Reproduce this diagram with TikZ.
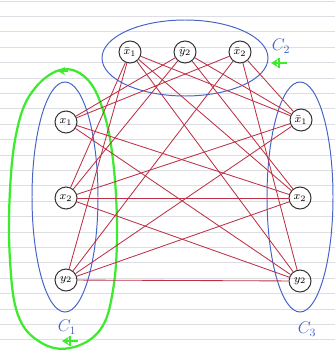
\documentclass[tikz,border=0pt]{standalone}
\usepackage{xcolor}
\usepackage{tikz}
\usetikzlibrary{arrows.meta}
\pgfdeclarelayer{bg}
\pgfsetlayers{bg,main}
\definecolor{ruledgray}{HTML}{DCDEE4}
\definecolor{edgered}{HTML}{BE3046}
\definecolor{groupblue}{HTML}{4664C8}
\definecolor{markgreen}{HTML}{3DEB2D}
\definecolor{vertexstroke}{HTML}{303030}

\begin{document}
\begin{tikzpicture}[
  x=0.025cm,
  y=-0.025cm,
  ruled/.style={
    draw=ruledgray,
    line width=0.7pt
  },
  edge/.style={
    draw=edgered,
    line width=0.6pt
  },
  vertex/.style={
    circle,
    draw=vertexstroke,
    line width=0.7pt,
    minimum size=0.55cm,
    inner sep=0pt,
    font=\footnotesize
  },
  group/.style={
    draw=groupblue,
    line width=0.7pt
  },
  clauselabel/.style={
    text=groupblue,
    font=\large
  },
  greenline/.style={
    draw=markgreen,
    line width=1.6pt
  }
]

\path[use as bounding box] (0,0) rectangle (335,354);

% Clause C2 (top)
\node[vertex] (t1) at (130,52) {$\bar{x}_1$};
\node[vertex] (t2) at (185,52) {$\bar{y}_2$};
\node[vertex] (t3) at (240,52) {$\bar{x}_2$};

% Clause C1 (left)
\node[vertex] (l1) at (66,122) {$x_1$};
\node[vertex] (l2) at (66,198) {$x_2$};
\node[vertex] (l3) at (66,280) {$y_2$};

% Clause C3 (right)
\node[vertex] (r1) at (301,120) {$\bar{x}_1$};
\node[vertex] (r2) at (300,198) {$x_2$};
\node[vertex] (r3) at (300,281) {$y_2$};

% Clause labels
\node[clauselabel] (c1lab) at (67,327) {$C_1$};
\node[clauselabel] (c2lab) at (281,46) {$C_2$};
\node[clauselabel] (c3lab) at (307,329) {$C_3$};

\begin{pgfonlayer}{bg}

% Ruled paper
\foreach \k in {0,...,22}
  \draw[ruled] (0,{1+15.4*\k}) -- (335,{1+15.4*\k});

% Clause groups
\draw[group] (65,197) ellipse [x radius=33, y radius=115];
\draw[group] (185,58) ellipse [x radius=83, y radius=38];
\draw[group] (300,197) ellipse [x radius=33, y radius=115];

% Green selection
\draw[greenline] plot[smooth cycle, tension=0.65] coordinates {
  (60,70) (86,78) (103,110) (113,160) (117,230) (113,290)
  (100,330) (70,348) (40,342) (18,315) (10,260) (10,190)
  (17,130) (32,92)};
\draw[greenline,-{Stealth[length=5pt,width=6pt]}] (68,71) -- (58,71);
\draw[greenline,-{Stealth[length=5pt,width=6pt]}] (78,341) -- (62,341);
\draw[greenline] (70,336) -- (70,346);
\draw[greenline,-{Stealth[length=5pt,width=6pt]}] (287,63) -- (271,63);
\draw[greenline] (279,58) -- (279,68);

\end{pgfonlayer}

% C1 -- C2
\draw[edge] (l2) -- (t1);
\draw[edge] (l3) -- (t1);
\draw[edge] (l1) -- (t2);
\draw[edge] (l2) -- (t2);
\draw[edge] (l1) -- (t3);
\draw[edge] (l3) -- (t3);

% C1 -- C3
\draw[edge] (l1) -- (r2);
\draw[edge] (l1) -- (r3);
\draw[edge] (l2) -- (r1);
\draw[edge] (l2) -- (r2);
\draw[edge] (l2) -- (r3);
\draw[edge] (l3) -- (r1);
\draw[edge] (l3) -- (r2);
\draw[edge] (l3) -- (r3);

% C2 -- C3
\draw[edge] (t1) -- (r1);
\draw[edge] (t1) -- (r2);
\draw[edge] (t1) -- (r3);
\draw[edge] (t2) -- (r1);
\draw[edge] (t2) -- (r2);
\draw[edge] (t3) -- (r1);
\draw[edge] (t3) -- (r3);

\end{tikzpicture}
\end{document}
